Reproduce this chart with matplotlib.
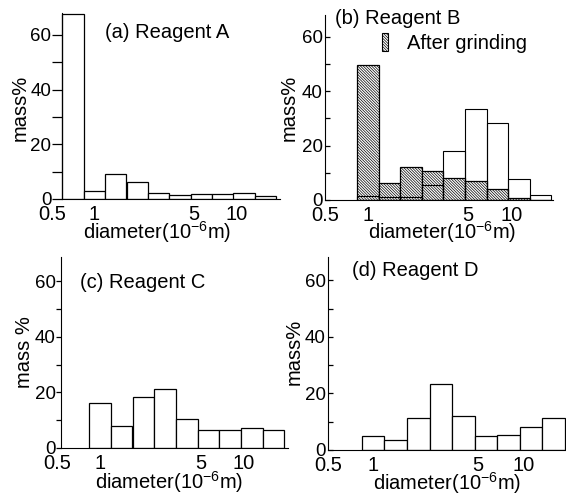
import matplotlib
matplotlib.use("Agg")
import matplotlib.pyplot as plt
from matplotlib.patches import Patch
import numpy as np

plt.rcParams['font.family'] = ['Liberation Sans', 'DejaVu Sans']
plt.rcParams['mathtext.fontset'] = 'custom'
plt.rcParams['mathtext.rm'] = 'Liberation Sans'
plt.rcParams['mathtext.it'] = 'Liberation Sans:italic'
plt.rcParams['hatch.linewidth'] = 0.5
plt.rcParams['hatch.color'] = '0.4'

# particle size channels (centre diameters, 10^-6 m)
d_a = [0.707, 1, 1.41, 2, 2.83, 4, 5.66, 8, 11.3, 16]
d_bcd = [1, 1.41, 2, 2.83, 4, 5.66, 8, 11.3, 16]

# mass% per channel
mass_a = [67.5, 2.9, 9.2, 6.1, 2.2, 1.5, 1.7, 2.0, 2.3, 1.1]
mass_b_before = [1.5, 1.0, 1.2, 5.4, 18.1, 33.5, 28.2, 7.6, 2.0]
mass_b_after = [49.5, 6.4, 12.1, 10.8, 8.0, 6.8, 4.0, 0.6, 0.0]
mass_c = [16.1, 8.0, 18.2, 21.1, 10.4, 6.5, 6.3, 7.2, 6.3]
mass_d = [5.1, 3.4, 11.4, 23.2, 12.0, 4.9, 5.2, 8.1, 11.2]

xticks = [0.5, 1, 5, 10]
xticklabels = ['0.5', '1', '5', '10']
titles = ['(a) Reagent A', '(b) Reagent B', '(c) Reagent C', '(d) Reagent D']
ylabels = ['mass%', 'mass%', 'mass %', 'mass%']
xlabel = r'diameter(10$^{-6}$m)'

W, H = 566, 495
fig = plt.figure(figsize=(W/100, H/100), dpi=100)
FS = 14.5
HATCH = '\\' * 12


def fx(x):
    return x / W


def fy(y):
    return 1 - y / H


def edges(centres):
    c = np.array(centres, dtype=float)
    return c / 2**0.25, c * 2**0.25


def make_axes(left, right, bottom, top, xmax, ymax, spine_x, tdir, tlen, tpad):
    ax = fig.add_axes([fx(left), fy(bottom), (right-left)/W, (bottom-top)/H])
    ax.set_xscale('log')
    ax.set_xlim(0.5, xmax)
    ax.set_ylim(0, ymax)
    for s in ['top', 'right']:
        ax.spines[s].set_visible(False)
    ax.spines['left'].set_position(('data', spine_x))
    ax.spines['bottom'].set_bounds(spine_x, xmax)
    ax.set_xticks(xticks)
    ax.set_xticklabels(xticklabels)
    ax.xaxis.set_minor_locator(matplotlib.ticker.NullLocator())
    ax.tick_params(axis='x', length=0, pad=4.0, labelsize=FS)
    ax.set_yticks([0, 20, 40, 60])
    ax.set_yticks([10, 30, 50], minor=True)
    ax.tick_params(axis='y', which='major', direction=tdir, length=tlen,
                   width=0.9, pad=tpad, labelsize=13.5)
    ax.tick_params(axis='y', which='minor', direction=tdir, length=tlen,
                   width=0.9)
    ax.patch.set_alpha(0)
    return ax


def hist(ax, centres, values, **kw):
    lo, hi = edges(centres)
    ax.bar(lo, values, width=hi - lo, align='edge', **kw)


# panel layout in pixels: left(x=0.5), right, bottom, top, xmax, ymax, spine,
# y tick direction, length, pad
layout = [
    (51.7, 280, 199, 13, 20.2, 68.0, 0.59, 'out', 7.0, 0.5),
    (325, 553, 200, 15, 19.6, 68.0, 0.5, 'in', 3.5, 1.5),
    (56.7, 288, 448, 257, 20.2, 68.7, 0.535, 'out', 3.5, 0.3),
    (328, 566, 450, 257, 19.3, 68.2, 0.5, 'in', 3.5, 1.5),
]
ylab_pos = [(20, 108), (289, 108), (25, 352), (294, 352)]
xlab_pos = [(157, 239), (442, 239), (169, 489), (447, 490)]
title_pos = [(105, 33), (335, 18), (80, 283), (352, 270)]

axes = [make_axes(*l) for l in layout]

hist(axes[0], d_a, mass_a, facecolor='white', edgecolor='black', linewidth=0.9)
hist(axes[1], d_bcd, mass_b_after, facecolor='white', edgecolor='black',
     linewidth=0.9, hatch=HATCH, zorder=2)
hist(axes[1], d_bcd, mass_b_before, fill=False, edgecolor='black',
     linewidth=0.8, zorder=3)
hist(axes[2], d_bcd, mass_c, facecolor='white', edgecolor='black', linewidth=0.9)
hist(axes[3], d_bcd, mass_d, facecolor='white', edgecolor='black', linewidth=0.9)

for ax, yl, yp, xp in zip(axes, ylabels, ylab_pos, xlab_pos):
    ax.set_ylabel(yl, fontsize=FS, va='center', ha='center')
    ax.yaxis.set_label_coords(fx(yp[0]), fy(yp[1]), transform=fig.transFigure)
    ax.set_xlabel(xlabel, fontsize=FS, va='baseline', ha='center')
    ax.xaxis.set_label_coords(fx(xp[0]), fy(xp[1]), transform=fig.transFigure)

for t, tp in zip(titles, title_pos):
    fig.text(fx(tp[0]), fy(tp[1]), t, fontsize=FS, ha='left', va='center')

leg = axes[1].legend(
    handles=[Patch(facecolor='white', edgecolor='black', linewidth=0.8,
                   hatch=HATCH, label='After grinding')],
    loc='center left', bbox_to_anchor=(fx(382), fy(43)),
    bbox_transform=fig.transFigure, frameon=False, fontsize=FS,
    handlelength=0.3, handleheight=1.0, handletextpad=0.95,
    borderpad=0, borderaxespad=0)

plt.savefig('out.png', dpi=100)
